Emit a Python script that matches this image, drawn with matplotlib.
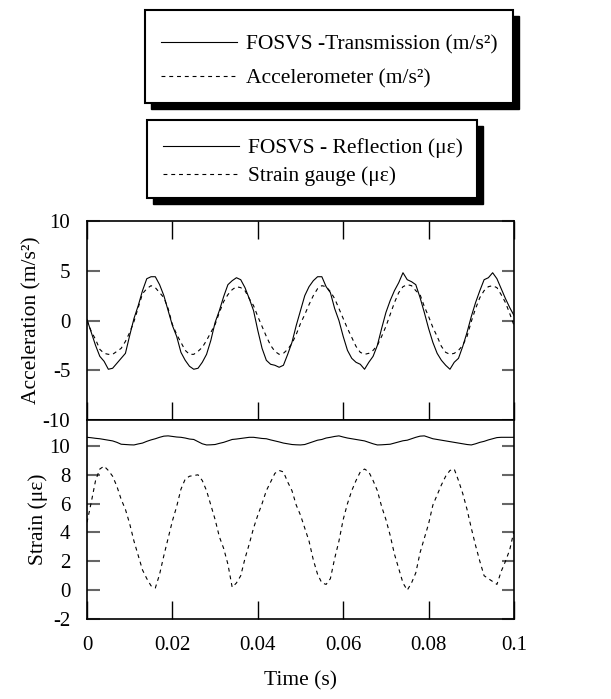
import numpy as np
import matplotlib.pyplot as plt
from matplotlib.patches import Rectangle

plt.rcParams['font.family'] = ['Liberation Serif', 'DejaVu Serif']
plt.rcParams['axes.unicode_minus'] = False

# sampling every 1 ms over 0.1 s
time_s = np.arange(101) * 0.001

# FOSVS - transmission (m/s^2)
fosvs_acc = [0.1, -1.2, -2.5, -3.6, -4.1, -4.9, -4.8, -4.3, -3.8, -3.3,
             -1.5, 0.2, 1.5, 3.0, 4.2, 4.4, 4.4, 3.6, 2.5, 1.0,
             -0.5, -1.6, -3.2, -4.0, -4.6, -4.9, -4.8, -4.2, -3.4, -2.0,
             -0.2, 1.0, 2.4, 3.6, 4.0, 4.3, 4.1, 3.3, 2.2, 1.0,
             -1.0, -2.8, -4.0, -4.4, -4.5, -4.7, -4.5, -3.4, -2.2, -0.5,
             1.0, 2.5, 3.4, 4.0, 4.4, 4.4, 3.4, 2.8, 1.2, 0.0,
             -1.6, -3.0, -3.8, -4.2, -4.4, -4.9, -4.2, -3.6, -2.5, -0.8,
             0.8, 2.0, 3.0, 3.8, 4.8, 4.1, 3.9, 3.6, 2.3, 0.8,
             -0.8, -2.2, -3.3, -4.0, -4.5, -4.9, -4.2, -3.8, -2.6, -1.2,
             0.4, 1.8, 3.0, 4.1, 4.3, 4.8, 4.2, 3.2, 2.2, 1.3, 0.5]

# accelerometer (m/s^2)
accelerometer = [0.0, -1.1, -1.9, -2.9, -3.3, -3.4, -3.4, -3.1, -2.8, -2.1,
                 -1.2, -0.1, 1.3, 2.7, 3.2, 3.5, 3.3, 2.8, 2.3, 1.2,
                 -0.4, -1.4, -2.2, -3.0, -3.4, -3.4, -3.1, -2.7, -2.0, -1.2,
                 -0.4, 0.8, 1.9, 2.6, 3.1, 3.4, 3.3, 3.0, 2.2, 1.5,
                 0.4, -0.6, -1.6, -2.5, -3.1, -3.4, -3.3, -2.9, -2.3, -1.4,
                 -0.3, 0.6, 1.6, 2.5, 3.2, 3.5, 3.4, 2.9, 2.2, 1.2,
                 0.2, -0.8, -1.7, -2.6, -3.2, -3.4, -3.3, -3.0, -2.5, -1.6,
                 -0.6, 0.6, 1.8, 2.8, 3.4, 3.6, 3.5, 3.0, 2.6, 1.4,
                 0.4, -0.7, -1.6, -2.6, -3.2, -3.4, -3.3, -3.0, -2.5, -1.6,
                 -0.1, 1.2, 2.3, 3.0, 3.4, 3.5, 3.3, 2.6, 1.8, 0.7, -0.5]

# FOSVS - reflection (micro strain)
fosvs_strain = [10.6, 10.57, 10.53, 10.5, 10.45, 10.4, 10.35, 10.25, 10.12, 10.1,
                10.08, 10.07, 10.14, 10.2, 10.32, 10.42, 10.5, 10.6, 10.68, 10.7,
                10.66, 10.62, 10.6, 10.55, 10.48, 10.45, 10.3, 10.15, 10.07, 10.08,
                10.1, 10.18, 10.25, 10.35, 10.45, 10.48, 10.52, 10.56, 10.6, 10.6,
                10.56, 10.52, 10.5, 10.42, 10.35, 10.28, 10.2, 10.15, 10.1, 10.08,
                10.07, 10.1, 10.2, 10.3, 10.4, 10.45, 10.55, 10.6, 10.66, 10.7,
                10.62, 10.55, 10.5, 10.45, 10.4, 10.35, 10.25, 10.15, 10.07, 10.08,
                10.1, 10.12, 10.2, 10.28, 10.36, 10.4, 10.5, 10.6, 10.68, 10.7,
                10.6, 10.5, 10.45, 10.4, 10.35, 10.3, 10.25, 10.2, 10.15, 10.1,
                10.07, 10.15, 10.25, 10.32, 10.42, 10.5, 10.58, 10.6, 10.6, 10.6, 10.6]

# strain gauge (micro strain)
strain_gauge = [4.7, 6.1, 7.6, 8.4, 8.6, 8.3, 7.9, 7.2, 6.3, 5.6,
                4.6, 3.4, 2.4, 1.4, 0.8, 0.3, 0.15, 1.1, 2.4, 3.6,
                4.8, 5.8, 7.0, 7.7, 7.9, 7.95, 8.0, 7.6, 6.9, 5.9,
                4.9, 3.7, 2.9, 1.8, 0.2, 0.5, 1.0, 2.2, 3.2, 4.3,
                5.2, 6.0, 6.9, 7.5, 8.1, 8.3, 8.2, 7.5, 6.9, 5.9,
                5.2, 4.3, 3.4, 2.1, 1.1, 0.5, 0.4, 0.8, 2.2, 3.4,
                4.9, 6.0, 6.9, 7.6, 8.2, 8.4, 8.2, 7.6, 6.9, 5.8,
                4.9, 3.8, 2.5, 1.5, 0.5, 0.0, 0.5, 1.2, 2.6, 3.6,
                4.6, 5.9, 6.6, 7.3, 7.9, 8.3, 8.4, 7.6, 6.7, 5.6,
                4.3, 3.1, 2.0, 1.0, 0.8, 0.6, 0.4, 1.3, 2.0, 2.8, 4.1]

x_ticks = [0, 0.02, 0.04, 0.06, 0.08, 0.1]
x_tick_labels = ['0', '0.02', '0.04', '0.06', '0.08', '0.1']
acc_ticks = [-10, -5, 0, 5, 10]
strain_ticks = [-2, 0, 2, 4, 6, 8, 10]

W, H = 611, 699
fig = plt.figure(figsize=(W / 100, H / 100), dpi=100)


def fx(px):
    return px / W


def fy(py):
    return 1 - py / H


dash = (0, (3.5, 3.5))

# Acceleration panel
ax1 = fig.add_axes([fx(87), fy(420), fx(514) - fx(87), fy(221) - fy(420)])
l_fosvs_acc, = ax1.plot(time_s, fosvs_acc, color='black', lw=0.8)
l_accel, = ax1.plot(time_s, accelerometer, color='black', lw=0.8, linestyle=dash)
ax1.set_xlim(0, 0.1)
ax1.set_ylim(-10, 10)
ax1.set_xticks(x_ticks)
ax1.set_yticks(acc_ticks)
ax1.tick_params(axis='x', direction='in', top=True, bottom=True, labelbottom=False,
                length=13, width=1, color='black')
ax1.tick_params(axis='y', direction='in', left=True, right=True, length=9, width=1.5,
                color='0.4', labelsize=15, pad=12)
ax1.set_ylabel('Acceleration (m/s²)', fontsize=15.5, labelpad=1)

# Strain panel
ax2 = fig.add_axes([fx(87), fy(619), fx(514) - fx(87), fy(420) - fy(619)])
l_fosvs_strain, = ax2.plot(time_s, fosvs_strain, color='black', lw=0.8)
l_gauge, = ax2.plot(time_s, strain_gauge, color='black', lw=0.8, linestyle=dash)
ax2.set_xlim(0, 0.1)
ax2.set_ylim(-2, 11.8)
ax2.set_xticks(x_ticks)
ax2.set_xticklabels(x_tick_labels)
ax2.set_yticks(strain_ticks)
ax2.tick_params(axis='x', direction='in', top=False, bottom=True, length=13, width=1,
                color='black', labelsize=15, pad=12)
ax2.tick_params(axis='y', direction='in', left=True, right=True, length=9, width=1.5,
                color='0.4', labelsize=15, pad=12)
ax2.set_ylabel('Strain (με)', fontsize=15.5, labelpad=1)
ax2.set_xlabel('Time (s)', fontsize=15.5, labelpad=12)
fig.align_ylabels([ax1, ax2])

for ax in (ax1, ax2):
    for sp in ax.spines.values():
        sp.set_linewidth(1.2)

# legend boxes with a solid drop shadow
boxes = [(145, 10, 513, 103), (147, 120, 477, 198)]
for (x0, y0, x1, y1) in boxes:
    fig.add_artist(Rectangle((fx(x0 + 6), fy(y1 + 6)), fx(x1) - fx(x0), fy(y0) - fy(y1),
                             transform=fig.transFigure, facecolor='black',
                             edgecolor='black', zorder=1))
    fig.add_artist(Rectangle((fx(x0), fy(y1)), fx(x1) - fx(x0), fy(y0) - fy(y1),
                             transform=fig.transFigure, facecolor='white',
                             edgecolor='black', lw=1.5, zorder=2))

leg1 = fig.legend([l_fosvs_acc, l_accel],
                  ['FOSVS -Transmission (m/s²)', 'Accelerometer (m/s²)'],
                  loc='upper left', bbox_to_anchor=(fx(161), fy(34)),
                  frameon=False, fontsize=15.5, borderpad=0, borderaxespad=0,
                  handlelength=3.55, handletextpad=0.4, labelspacing=0.68)
leg1.set_zorder(3)
leg2 = fig.legend([l_fosvs_strain, l_gauge],
                  ['FOSVS - Reflection (με)', 'Strain gauge (με)'],
                  loc='upper left', bbox_to_anchor=(fx(163), fy(138)),
                  frameon=False, fontsize=15.5, borderpad=0, borderaxespad=0,
                  handlelength=3.55, handletextpad=0.4, labelspacing=0.38)
leg2.set_zorder(3)

fig.savefig('out.png', dpi=100)
